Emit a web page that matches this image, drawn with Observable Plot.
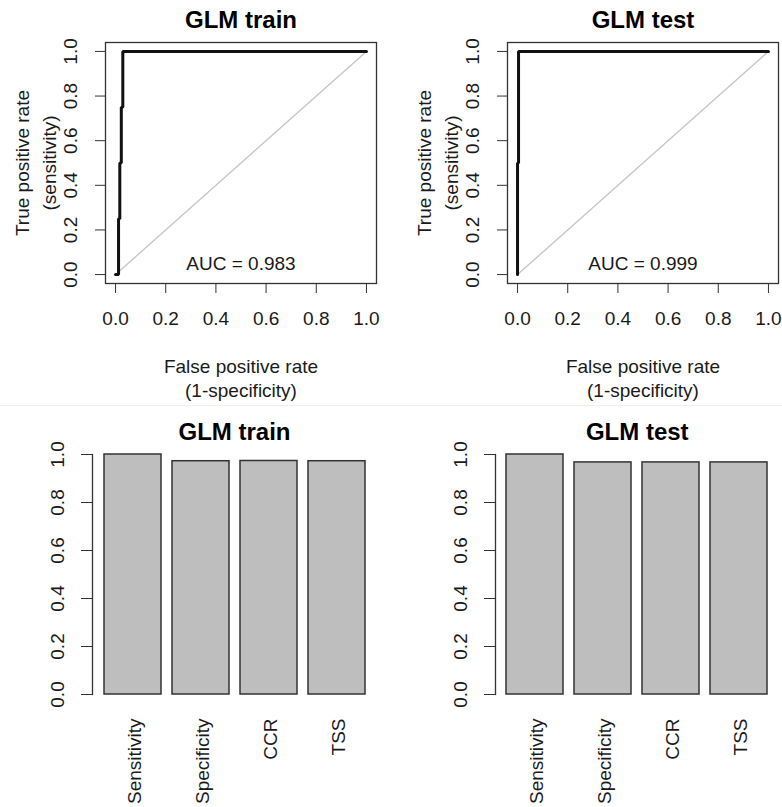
<!DOCTYPE html>
<html>
<head>
<meta charset="utf-8">
<script src="https://cdn.jsdelivr.net/npm/d3@7"></script>
<script src="https://cdn.jsdelivr.net/npm/@observablehq/plot@0.6"></script>
<style>
  html, body { margin: 0; padding: 0; background: #fff; }
  #root { position: relative; width: 782px; height: 807px; overflow: hidden; background: #fff; }
  .panel { position: absolute; }
  .sep { position: absolute; left: 0; top: 405px; width: 782px; height: 1px; background: #eeeeee; }
</style>
</head>
<body>
<div id="root">
  <div class="panel" id="p1" style="left:0;top:0"></div>
  <div class="panel" id="p2" style="left:391px;top:0"></div>
  <div class="sep"></div>
  <div class="panel" id="p3" style="left:0;top:406px"></div>
  <div class="panel" id="p4" style="left:391px;top:406px"></div>
</div>
<script>
// ---- data ----
const axisTicks = [0, 0.2, 0.4, 0.6, 0.8, 1.0];
const diagonal = [0, 1];

const trainFPR = [0, 0.012, 0.012, 0.017, 0.017, 0.023, 0.023, 0.029, 0.029, 1];
const trainTPR = [0, 0, 0.25, 0.25, 0.5, 0.5, 0.75, 0.75, 1, 1];
const trainAUC = "0.983";

const testFPR = [0, 0, 0.004, 0.004, 1];
const testTPR = [0, 0.5, 0.5, 1, 1];
const testAUC = "0.999";

const metrics = ["Sensitivity", "Specificity", "CCR", "TSS"];
const trainMetrics = [1.0, 0.972, 0.973, 0.972];
const testMetrics = [1.0, 0.967, 0.967, 0.967];

const FONT = "'Liberation Sans', Arial, sans-serif";
const INK = "#1a1a1a";
const C = {textAnchor: "middle", lineAnchor: "middle"};

function rocPanel(title, fpr, tpr, auc, ml, mr) {
  const pts = fpr.map((x, i) => ({x, y: tpr[i]}));
  const diag = diagonal.map(v => ({x: v, y: v}));
  return Plot.plot({
    width: 391, height: 405,
    marginLeft: ml, marginRight: mr, marginTop: 42, marginBottom: 122,
    x: {domain: [-0.04, 1.04]},
    y: {domain: [-0.04, 1.04]},
    style: {fontFamily: FONT, fontSize: "19px", color: INK, background: "white", overflow: "visible"},
    marks: [
      Plot.line(diag, {x: "x", y: "y", stroke: "#c4c4c4", strokeWidth: 1.3}),
      Plot.line(pts, {x: "x", y: "y", stroke: "#111", strokeWidth: 3, strokeLinejoin: "miter"}),
      Plot.frame({stroke: "#333", strokeWidth: 1.3}),
      Plot.axisX({ticks: axisTicks, tickSize: 10, tickPadding: 18, tickFormat: d3.format(".1f"), label: null, fontSize: 19, stroke: "#333"}),
      Plot.axisY({ticks: axisTicks, tickSize: 10, tickFormat: () => "", label: null, stroke: "#333"}),
      Plot.text(axisTicks, {...C, y: d => d, text: d => d.toFixed(1), frameAnchor: "left", dx: -35, rotate: -90, fontSize: 19, fill: INK}),
      Plot.text([{x: 0.5, y: 0.05, t: "AUC = " + auc}], {...C, x: "x", y: "y", text: "t", fontSize: 19, fill: INK}),
      Plot.text([title], {...C, frameAnchor: "top", dy: -22, fontSize: 24, fontWeight: "bold", fill: "#000"}),
      Plot.text(["False positive rate"], {...C, frameAnchor: "bottom", dy: 83, fontSize: 19, fill: INK}),
      Plot.text(["(1-specificity)"], {...C, frameAnchor: "bottom", dy: 107, fontSize: 19, fill: INK}),
      Plot.text(["True positive rate"], {...C, frameAnchor: "left", dx: -83, rotate: -90, fontSize: 19, fill: INK}),
      Plot.text(["(sensitivity)"], {...C, frameAnchor: "left", dx: -56, rotate: -90, fontSize: 19, fill: INK})
    ]
  });
}

function barPanel(title, values, ml, mr) {
  const data = metrics.map((m, i) => ({m, v: values[i]}));
  return Plot.plot({
    width: 391, height: 401,
    marginLeft: ml, marginRight: mr, marginTop: 48, marginBottom: 113,
    x: {domain: metrics, type: "band", paddingInner: 1 / 6, paddingOuter: 0.1533, axis: null},
    y: {domain: [0, 1], axis: null},
    style: {fontFamily: FONT, fontSize: "19px", color: INK, background: "white", overflow: "visible"},
    marks: [
      Plot.barY(data, {x: "m", y: "v", fill: "#bebebe", stroke: "#333", strokeWidth: 1.5}),
      Plot.frame({anchor: "left", stroke: "#333", strokeWidth: 1.3}),
      Plot.axisY({ticks: axisTicks, tickSize: 11, tickFormat: () => "", label: null, stroke: "#333"}),
      Plot.text(axisTicks, {...C, y: d => d, text: d => d.toFixed(1), frameAnchor: "left", dx: -35, rotate: -90, fontSize: 19, fill: INK}),
      Plot.text(data, {x: "m", text: "m", frameAnchor: "bottom", dy: 24, dx: 2, rotate: -90, textAnchor: "end", lineAnchor: "middle", fontSize: 19, fill: INK}),
      Plot.text([title], {...C, frameAnchor: "top", dy: -22, fontSize: 24, fontWeight: "bold", fill: "#000"})
    ]
  });
}

document.getElementById("p1").append(rocPanel("GLM train", trainFPR, trainTPR, trainAUC, 105, 15));
document.getElementById("p2").append(rocPanel("GLM test", testFPR, testTPR, testAUC, 116, 4));
document.getElementById("p3").append(barPanel("GLM train", trainMetrics, 92, 15));
document.getElementById("p4").append(barPanel("GLM test", testMetrics, 104, 3.5));
</script>
</body>
</html>
